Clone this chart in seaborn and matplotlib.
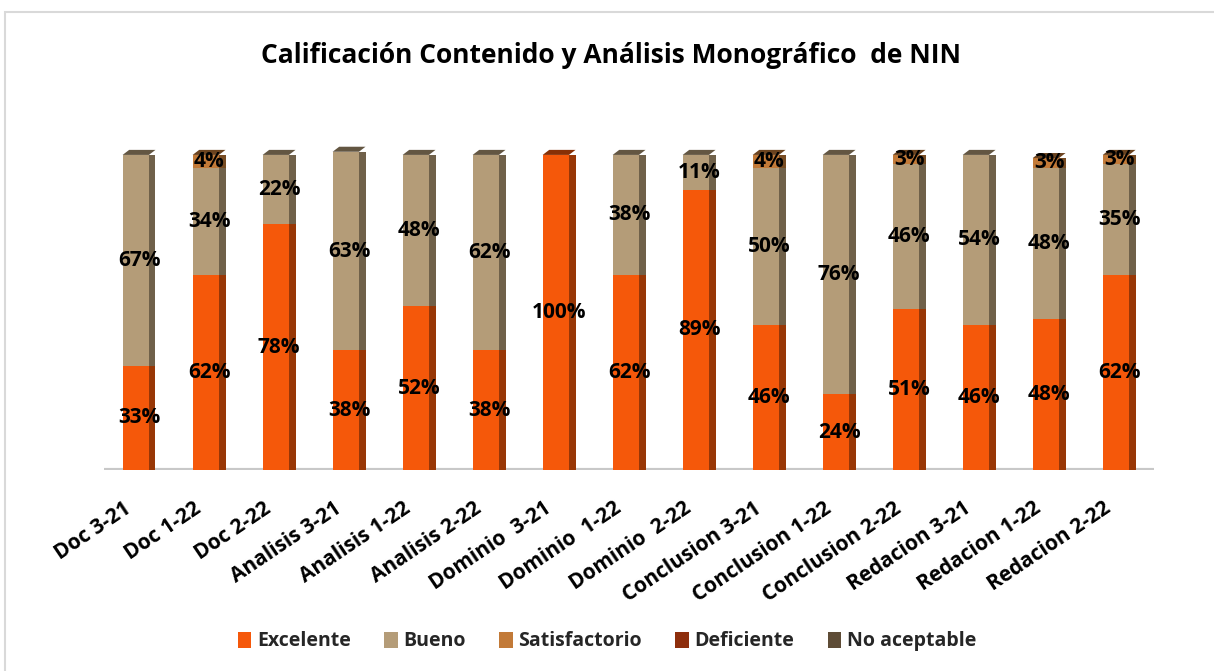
import numpy as np
import pandas as pd
import seaborn as sns
import matplotlib
matplotlib.use("Agg")
import matplotlib.pyplot as plt
import matplotlib.transforms as mtransforms
from matplotlib.patches import Patch, Rectangle, Polygon
from matplotlib.colors import to_rgb

# data (percent)
categories = ["Doc 3-21", "Doc 1-22", "Doc 2-22", "Analisis 3-21", "Analisis 1-22",
              "Analisis 2-22", "Dominio  3-21", "Dominio  1-22", "Dominio  2-22",
              "Conclusion 3-21", "Conclusion 1-22", "Conclusion 2-22",
              "Redacion 3-21", "Redacion 1-22", "Redacion 2-22"]
excelente = [33, 62, 78, 38, 52, 38, 100, 62, 89, 46, 24, 51, 46, 48, 62]
bueno = [67, 34, 22, 63, 48, 62, 0, 38, 11, 50, 76, 46, 54, 48, 35]
satisfactorio = [0, 4, 0, 0, 0, 0, 0, 0, 0, 4, 0, 3, 0, 3, 3]
deficiente = [0] * 15
no_aceptable = [0] * 15

series = ["Excelente", "Bueno", "Satisfactorio", "Deficiente", "No aceptable"]
colors = {"Excelente": "#F5580A", "Bueno": "#B49C78", "Satisfactorio": "#C27A38",
          "Deficiente": "#8E2E0C", "No aceptable": "#5E4C36"}

df = pd.DataFrame({"cat": categories, "exc": np.array(excelente) / 100,
                   "bue": np.array(bueno) / 100, "sat": np.array(satisfactorio) / 100})
df["top2"] = df["exc"] + df["bue"]
df["top3"] = df["top2"] + df["sat"]

sns.set_theme(style="white")
plt.rcParams["font.family"] = ["Open Sans", "DejaVu Sans"]

fig = plt.figure(figsize=(12.14, 6.71), dpi=100)
ax = fig.add_axes([0.0857, 0.2996, 0.865, 0.493])

# stacked look: draw cumulative totals, largest first
layers = [("top3", "Satisfactorio"), ("top2", "Bueno"), ("exc", "Excelente")]
for i, (col, name) in enumerate(layers):
    sns.barplot(data=df, x="cat", y=col, order=categories, color=colors[name],
                width=0.47, saturation=1, ax=ax, zorder=2 + i, linewidth=0)

# darker right face + top cap to fake the 3d columns
n = len(categories)
for i, (col, name) in enumerate(layers):
    dark = tuple(c * 0.62 for c in to_rgb(colors[name]))
    for p in ax.patches[i * n:(i + 1) * n]:
        w = p.get_width()
        ax.add_patch(Rectangle((p.get_x() + w * 0.8, p.get_y()), w * 0.2, p.get_height(),
                               facecolor=dark, edgecolor="none", zorder=2.5 + i))

cap = 0.016
for j, p in enumerate(ax.patches[:n]):
    if df.loc[j, "sat"] > 0:
        top_name = "Satisfactorio"
    elif df.loc[j, "bue"] > 0:
        top_name = "Bueno"
    else:
        top_name = "Excelente"
    x0, w, h = p.get_x(), p.get_width(), p.get_height()
    ax.add_patch(Polygon([(x0, h), (x0 + w * 0.8, h), (x0 + w, h + cap), (x0 + w * 0.2, h + cap)],
                         closed=True, facecolor=tuple(c * 0.55 for c in to_rgb(colors[top_name])),
                         edgecolor="none", zorder=6, clip_on=False))

ax.axhline(0, color="#C8C8C8", lw=3, zorder=1)
ax.set_ylim(0, 1.05)
ax.set_xlim(-0.5, n - 0.5)
ax.set_yticks([])
ax.set_xlabel("")
ax.set_ylabel("")
sns.despine(ax=ax, left=True, bottom=True)
ax.tick_params(axis="x", length=0, pad=10)
ax.set_xticks(range(n))
ax.set_xticklabels(categories, rotation=34, ha="right", rotation_mode="anchor",
                   fontsize=15, fontweight="bold", color="black")
shift = mtransforms.ScaledTranslation(-16 / 100, -14 / 100, fig.dpi_scale_trans)
for lab in ax.get_xticklabels():
    lab.set_transform(lab.get_transform() + shift)

# data labels
for i in range(n):
    e, b, s = df.loc[i, "exc"], df.loc[i, "bue"], df.loc[i, "sat"]
    for val, base in [(e, 0), (b, e), (s, e + b)]:
        if val > 0:
            ax.text(i, base + val / 2, f"{round(val * 100)}%", ha="center", va="center",
                    fontsize=15, fontweight="bold", color="black", zorder=10)

fig.text(0.503, 0.918, "Calificación Contenido y Análisis Monográfico  de NIN",
         ha="center", va="center", fontsize=19, fontweight="bold", color="black")

handles = [Patch(facecolor=colors[s], edgecolor="none") for s in series]
fig.legend(handles, series, loc="center", bbox_to_anchor=(0.5, 0.044), ncol=5,
           frameon=False, prop={"weight": "bold", "size": 14}, handlelength=0.7,
           handleheight=0.9, handletextpad=0.3, columnspacing=1.7)

fig.patches.append(Rectangle((5 / 1214, -0.05), 1.1, 1.032, transform=fig.transFigure,
                             fill=False, edgecolor="#D9D9D9", lw=1.5))

plt.savefig("out.png", dpi=100)
